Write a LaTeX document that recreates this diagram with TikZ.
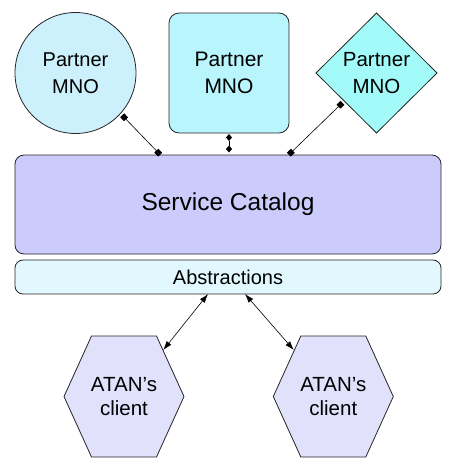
\documentclass[tikz,border=0pt]{standalone}
\usepackage{fontspec}
\setmainfont{Liberation Sans}
\usetikzlibrary{shapes.geometric,arrows.meta}
\definecolor{circfill}{HTML}{CCF0FC}
\definecolor{sqfill}{HTML}{B9F5FC}
\definecolor{diafill}{HTML}{A2FBF8}
\definecolor{catfill}{HTML}{CCCCFC}
\definecolor{absfill}{HTML}{E0F8FE}
\definecolor{hexfill}{HTML}{E1E1FB}
\begin{document}
\begin{tikzpicture}[x=1pt,y=-1pt,
  shapebox/.style={draw=black!85,line width=0.8pt,inner sep=0pt,outer sep=0pt,align=center},
  partnerfont/.style={font=\fontsize{20}{26.7}\selectfont},
  hexs/.style={draw=black!85,line width=0.8pt,fill=hexfill,line join=miter},
  hextext/.style={inner sep=0pt,align=center,font=\fontsize{20.5}{23.5}\selectfont},
  sqlink/.style={{Square[length=5.5pt,width=5.5pt]}-{Square[length=5.5pt,width=5.5pt]},line width=0.6pt,shorten <=2.5pt,shorten >=0.5pt},
  dmlink/.style={{Diamond[length=7pt,width=6pt]}-{Diamond[length=7pt,width=6pt]},line width=0.6pt,shorten <=1pt,shorten >=2.5pt},
  arlink/.style={{Latex[length=9pt,width=6pt]}-{Latex[length=9pt,width=6pt]},line width=0.6pt}]
\useasboundingbox (0,0) rectangle (456,474);
% top partners
\node[shapebox,circle,fill=circfill,minimum size=121pt,partnerfont] (circ) at (75.5,73) {Partner\\MNO};
\node[shapebox,rectangle,rounded corners=10pt,fill=sqfill,minimum width=120pt,minimum height=120pt,font=\fontsize{21}{26.7}\selectfont] (sq) at (229,73) {Partner\\MNO};
\node[shapebox,diamond,aspect=1,fill=diafill,minimum width=121pt,minimum height=120pt,font=\fontsize{20.5}{26}\selectfont] (dia) at (376.5,73) {\raisebox{1pt}{Partner}\\MNO};
% catalog and abstractions
\node[shapebox,rectangle,rounded corners=9pt,fill=catfill,minimum width=426pt,minimum height=99pt,font=\fontsize{24.5}{28}\selectfont] (cat) at (228,204.5) {\raisebox{-1.5pt}{Service Catalog}};
\node[shapebox,rectangle,rounded corners=8pt,fill=absfill,minimum width=426pt,minimum height=34pt,font=\fontsize{20}{24}\selectfont] (abs) at (228,277) {Abstractions};
% hexagons
\coordinate (hL) at (124,396.5);
\coordinate (hR) at (333.3,396.5);
\draw[hexs] (hL) ++(-60,0) -- ++(27.5,-60.5) -- ++(65,0) -- ++(27.5,60.5) -- ++(-27.5,60.5) -- ++(-65,0) -- cycle;
\draw[hexs] (hR) ++(-60,0) -- ++(27.5,-60.5) -- ++(65,0) -- ++(27.5,60.5) -- ++(-27.5,60.5) -- ++(-65,0) -- cycle;
\node[hextext] (tL) at (hL) {ATAN’s\\client};
\node[hextext] (tR) at (hR) {ATAN’s\\client};
\coordinate (eL) at (163.3,350);
\coordinate (eR) at (293.8,350);
% connectors
\draw[sqlink] (circ.-42.4) -- ([xshift=145.5pt]cat.north west);
\draw[dmlink] (sq.south) -- (sq.south |- cat.north);
\draw[sqlink] (dia.221) -- ([xshift=273.5pt]cat.north west);
\draw[arlink] ([xshift=193pt]abs.south west) -- (eL);
\draw[arlink] ([xshift=230pt]abs.south west) -- (eR);
\end{tikzpicture}
\end{document}
